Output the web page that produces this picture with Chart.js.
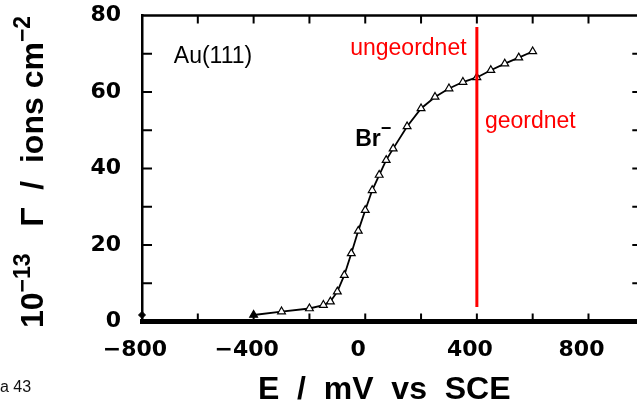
<!DOCTYPE html>
<html>
<head>
<meta charset="utf-8">
<script src="https://cdn.jsdelivr.net/npm/chart.js@4.4.1/dist/chart.umd.min.js"></script>
<style>
  html, body { margin: 0; padding: 0; background: #fff; overflow: hidden; }
  #wrap { width: 650px; height: 407px; }
</style>
</head>
<body>
<div id="wrap"><canvas id="c" width="650" height="407"></canvas></div>
<script>
/* ── data: Br- surface excess on Au(111) vs potential ───────────── */
const E_MV   = [-400, -300, -200, -150, -125, -100, -75, -50, -25, 0, 25, 50, 75, 100, 150, 200, 250, 300, 350, 400, 450, 500, 550, 600];
const GAMMA  = [1.7, 2.6, 3.4, 4.3, 5.2, 7.8, 12.1, 17.8, 23.7, 29.1, 34.3, 38.3, 42.2, 45.2, 51.0, 55.7, 58.7, 60.9, 62.6, 63.8, 65.7, 67.4, 69.0, 70.6];
const START_E     = [-800];
const START_GAMMA = [1.7];
const SPLIT_E     = [400, 400];
const SPLIT_GAMMA = [3.8, 77];

const X_TICKS = [-800, -400, 0, 400, 800];
const Y_TICKS = [0, 20, 40, 60, 80];
const X_MINOR = [-600, -400, -200, 0, 200, 400, 600, 800];
const Y_MINOR = [10, 20, 30, 40, 50, 60, 70];

/* labels placed in data coordinates */
const NOTES = [
  { text: "Au(111)",    x: -686, y: 67.5, color: "#000", font: "23px 'Liberation Sans', Arial, sans-serif" },
  { text: "ungeordnet", x: -54,  y: 69.6, color: "#f00", font: "23px 'Liberation Sans', Arial, sans-serif" },
  { text: "geordnet",   x: 429,  y: 50.5, color: "#f00", font: "23px 'Liberation Sans', Arial, sans-serif" },
];

const toXY = (xs, ys) => xs.map((x, i) => ({ x, y: ys[i] }));
const minus = (v) => (v < 0 ? "\u2212" + Math.abs(v) : String(v));

const SANS = "'Liberation Sans', Arial, sans-serif";
const tickFont  = { family: "'DejaVu Sans', sans-serif", weight: "bold", size: 22 };

/* text runs with raised superscripts, drawn one after another */
function drawRuns(ctx, runs, x0, y0) {
  let u = 0;
  runs.forEach(([txt, size, raise]) => {
    ctx.font = `bold ${size}px ${SANS}`;
    ctx.fillText(txt, x0 + u, y0 - raise);
    u += ctx.measureText(txt).width;
  });
}

/* frame: top border, inward ticks on all sides, labels */
const framePlugin = {
  id: "frame",
  beforeDatasetsDraw(chart) {
    const { ctx, chartArea: a, scales: { x, y } } = chart;
    ctx.save();
    ctx.strokeStyle = "#000";
    ctx.lineWidth = 2.5;
    ctx.beginPath();
    ctx.moveTo(a.left, a.top);
    ctx.lineTo(a.right, a.top);
    ctx.stroke();
    ctx.lineWidth = 2;
    ctx.beginPath();
    X_MINOR.forEach((v) => {
      const px = x.getPixelForValue(v);
      ctx.moveTo(px, a.bottom - 2); ctx.lineTo(px, a.bottom - 8);
      ctx.moveTo(px, a.top);        ctx.lineTo(px, a.top + 8);
    });
    Y_MINOR.forEach((v) => {
      const py = y.getPixelForValue(v);
      ctx.moveTo(a.left, py);  ctx.lineTo(a.left + 10, py);
      ctx.moveTo(a.right, py); ctx.lineTo(a.right - 12, py);
    });
    ctx.stroke();
    ctx.restore();
  },
  afterDatasetsDraw(chart) {
    const { ctx, scales: { x, y } } = chart;
    ctx.save();
    ctx.textBaseline = "alphabetic";
    NOTES.forEach((n) => {
      ctx.font = n.font;
      ctx.fillStyle = n.color;
      ctx.fillText(n.text, x.getPixelForValue(n.x), y.getPixelForValue(n.y));
    });
    ctx.fillStyle = "#000";
    // Br- label with raised minus
    drawRuns(ctx, [["Br", 23, 0], ["\u2212", 18, 12]], x.getPixelForValue(-36), y.getPixelForValue(46));
    // y-axis title, rotated
    ctx.save();
    ctx.translate(43, 328);
    ctx.rotate(-Math.PI / 2);
    drawRuns(ctx, [["10", 32, 0], ["\u221213", 23, 13], ["   \u0393  /  ions cm", 32, 0], ["\u22122", 23, 13]], 0, 0);
    ctx.restore();
    // caption fragment bottom-left
    ctx.font = `16px ${SANS}`;
    ctx.fillStyle = "#111";
    ctx.fillText("a 43", 0, 392);
    ctx.restore();
  },
};

new Chart(document.getElementById("c"), {
  type: "line",
  data: {
    datasets: [
      {
        data: toXY(SPLIT_E, SPLIT_GAMMA),
        borderColor: "#f00",
        borderWidth: 3,
        pointRadius: 0,
        order: 0,
        clip: false,
      },
      {
        data: toXY(E_MV, GAMMA),
        borderColor: "#000",
        borderWidth: 1.8,
        pointStyle: "triangle",
        pointRadius: 4.5,
        pointBorderWidth: 1.2,
        pointBorderColor: "#000",
        pointBackgroundColor: (c) => (c.dataIndex === 0 ? "#000" : "#fff"),
        tension: 0,
        order: 1,
        clip: false,
      },
      {
        data: toXY(START_E, START_GAMMA),
        showLine: false,
        pointStyle: "rectRot",
        pointRadius: 3.5,
        pointBackgroundColor: "#000",
        pointBorderColor: "#000",
        order: 1,
        clip: false,
      },
    ],
  },
  options: {
    responsive: false,
    devicePixelRatio: 1,
    animation: false,
    layout: { padding: { top: 15.5, right: 5, bottom: 0, left: 0 } },
    plugins: { legend: { display: false }, tooltip: { enabled: false } },
    scales: {
      x: {
        type: "linear",
        min: -800,
        max: 1000,
        afterBuildTicks: (s) => { s.ticks = X_TICKS.map((value) => ({ value })); },
        afterFit: (s) => { s.height = 85.5; s.paddingLeft = 0; s.paddingRight = 0; },
        ticks: { font: tickFont, color: "#000", padding: 16, labelOffset: -7, maxRotation: 0, callback: minus },
        grid: { display: false, drawTicks: false },
        border: { display: true, color: "#000", width: 5 },
        title: {
          display: true,
          text: "E  /  mV  vs  SCE  ",
          color: "#000",
          font: { family: SANS, weight: "bold", size: 32, lineHeight: 1 },
          padding: { top: 0, bottom: 1 },
        },
      },
      y: {
        min: 0,
        max: 80,
        afterBuildTicks: (s) => { s.ticks = Y_TICKS.map((value) => ({ value })); },
        afterFit: (s) => { s.width = 142; s.paddingTop = 0; s.paddingBottom = 0; },
        ticks: { font: tickFont, color: "#000", padding: 21, callback: minus },
        grid: { display: false, drawTicks: false },
        border: { display: true, color: "#000", width: 2.5 },
        title: { display: false },
      },
    },
  },
  plugins: [framePlugin],
});
</script>
</body>
</html>
